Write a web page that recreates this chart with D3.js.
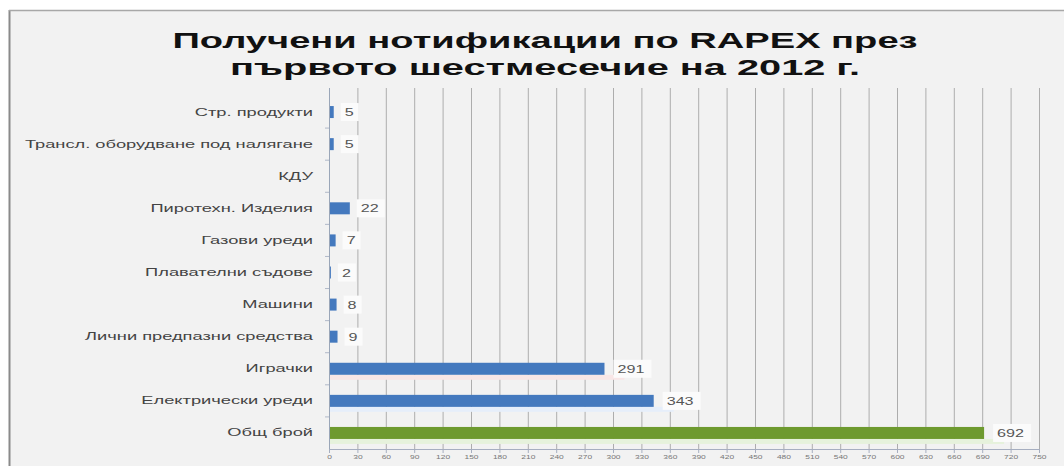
<!DOCTYPE html>
<html><head><meta charset="utf-8">
<script src="https://cdn.jsdelivr.net/npm/d3@7"></script>
<style>body{margin:0;background:#fff;}svg{display:block;}</style>
</head><body>
<svg id="c" width="1064" height="466"></svg>
<script>
const categories = ["Стр. продукти","Трансл. оборудване под налягане","КДУ","Пиротехн.  Изделия","Газови уреди","Плавателни съдове","Машини","Лични предпазни средства","Играчки","Електрически уреди","Общ брой"];
const values = [5,5,0,22,7,2,8,9,291,343,692];
const tickValues = d3.range(0, 751, 30);
const titleLines = ["Получени нотификации по RAPEX през","първото шестмесечие на 2012 г."];

const FONT = "Liberation Sans, Arial, sans-serif";
function stretch(sel, f){ sel.each(function(){ const L=this.getComputedTextLength(); if(L>0){ this.setAttribute("textLength", L*f); this.setAttribute("lengthAdjust","spacingAndGlyphs"); } }); }

const svg = d3.select("#c");
svg.append("rect").attr("x",9).attr("y",10).attr("width",1060).attr("height",460).attr("fill","#f2f2f2");
svg.append("line").attr("x1",9.5).attr("x2",9.5).attr("y1",10).attr("y2",466).attr("stroke","#8a8a8a").attr("stroke-width",2);
svg.append("line").attr("x1",9).attr("x2",1064).attr("y1",10.5).attr("y2",10.5).attr("stroke","#a8a8a8").attr("stroke-width",1.5);

const tt = svg.selectAll("text.title").data(titleLines).join("text")
  .attr("x",545).attr("y",(d,i)=>48+i*27)
  .attr("text-anchor","middle").attr("font-family",FONT)
  .attr("font-weight","bold").attr("font-size",22.5).attr("fill","#111").text(d=>d);
const titleW = [745, 630];
tt.each(function(d,i){ this.setAttribute("textLength", titleW[i]); this.setAttribute("lengthAdjust","spacingAndGlyphs"); });

const x = d3.scaleLinear().domain([0,750]).range([329,1039]);
const y = d3.scaleBand().domain(categories).range([96,449]);

svg.append("g").selectAll("line").data(tickValues.slice(1)).join("line")
  .attr("x1",d=>x(d)+0.5).attr("x2",d=>x(d)+0.5).attr("y1",88).attr("y2",449)
  .attr("stroke","#adadad").attr("stroke-width",1);

const bh = 12;
const bandCols = ["#e8eef8","#e8eef8","#f4ecec","#e8eef8","#e8eef8","#f4ecec","#e8eef8","#e8eef8","#f8e6e6","#e6eefa","#e6f2dc"];
svg.append("g").selectAll("rect").data(categories).join("rect")
  .attr("x",x(0)).attr("y",d=>y(d)+y.bandwidth()/2+bh/2)
  .attr("width",(d,i)=>x(values[i])-x(0)+ (i>=8?20:0)).attr("height",5)
  .attr("fill",(d,i)=>bandCols[i]).attr("opacity",(d,i)=>i>=8?1:0);

svg.append("g").selectAll("rect").data(categories).join("rect")
  .attr("x",x(0)).attr("y",d=>y(d)+y.bandwidth()/2-bh/2)
  .attr("width",(d,i)=>x(values[i])-x(0)).attr("height",bh)
  .attr("fill",(d,i)=>i===10?"#6e9a2f":"#4479be");

const lab = svg.append("g").selectAll("g").data(categories.map((c,i)=>({c,v:values[i]})).filter(d=>d.v>0)).join("g")
  .attr("transform",d=>`translate(${x(d.v)+(d.v>=100?13:11)},${y(d.c)+y.bandwidth()/2})`);
lab.append("rect").attr("x",-4).attr("y",-9).attr("width",d=>String(d.v).length*10+8).attr("height",18).attr("fill","#fbfbfb");
const lt = lab.append("text").attr("dy","0.35em")
  .attr("font-family",FONT).attr("font-size",11.5).attr("fill","#555").text(d=>d.v);
stretch(lt, 1.4);

const ya = d3.axisLeft(y).tickSize(0).tickPadding(16);
const yg = svg.append("g").attr("transform",`translate(${x(0)},0)`).call(ya);
yg.select(".domain").attr("stroke","#9aa6b8").attr("d",`M0.5,88V449`);
const yt = yg.selectAll("text").attr("font-family",FONT).attr("font-size",11).attr("fill","#444");
stretch(yt, 1.66);
svg.append("g").selectAll("line").data(categories.slice(1)).join("line")
  .attr("x1",x(0)-4).attr("x2",x(0)).attr("y1",d=>y(d)).attr("y2",d=>y(d)).attr("stroke","#b0b8c8");

const xa = d3.axisBottom(x).tickValues(tickValues).tickSize(4).tickSizeOuter(0);
const xg = svg.append("g").attr("transform","translate(0,449)").call(xa);
xg.select(".domain").attr("stroke","#a6aec0");
xg.selectAll(".tick line").attr("stroke","#a6aec0");
const xt = xg.selectAll("text").attr("font-family",FONT).attr("font-size",6).attr("fill","#777").attr("dy","0.5em");
stretch(xt, 1.4);
</script>
</body></html>
